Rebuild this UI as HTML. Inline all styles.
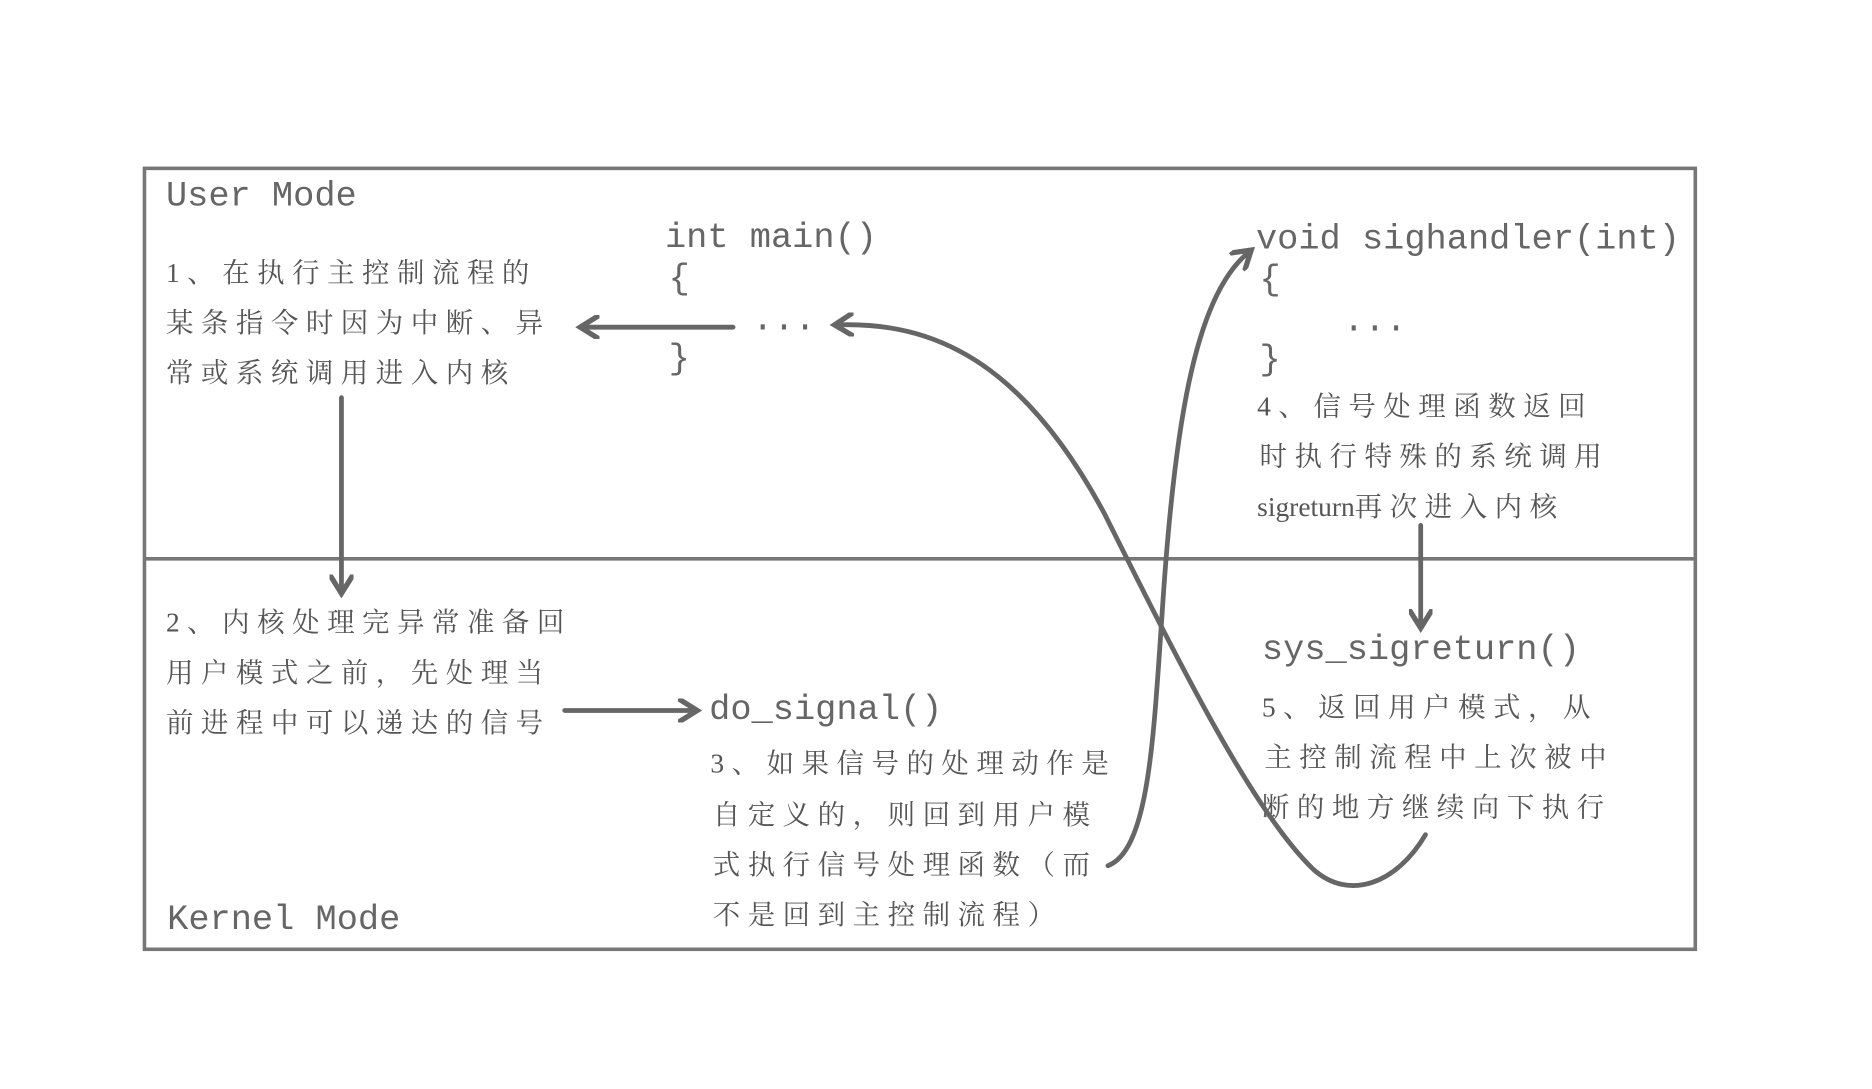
<!DOCTYPE html>
<html><head><meta charset="utf-8"><style>
html,body{margin:0;padding:0;background:#fff;}
svg{display:block;}
.m{font-family:"Liberation Mono",monospace;font-size:29.6px;fill:#666;}
.c{font-family:"Liberation Serif","Noto Serif CJK SC",serif;font-size:23px;letter-spacing:6.3px;fill:#555;}
</style></head><body>
<svg width="1872" height="1089" viewBox="0 0 1568 912" preserveAspectRatio="none" xmlns="http://www.w3.org/2000/svg">
<defs>
<marker id="a" viewBox="0 0 10 10" refX="6" refY="5" markerWidth="5" markerHeight="5" orient="auto-start-reverse" markerUnits="strokeWidth">
<path d="M0,0 L8,5 L0,10" fill="none" stroke="#666" stroke-width="2.2"/>
</marker>
</defs>
<rect x="121" y="141" width="1299" height="654" fill="none" stroke="#777" stroke-width="3"/>
<line x1="121" y1="468" x2="1420" y2="468" stroke="#777" stroke-width="3"/>

<text class="m" x="139" y="172">User Mode</text>
<text class="m" x="140" y="778">Kernel Mode</text>
<text class="m" x="557" y="207">int main()</text>
<text class="m" x="560" y="241">{</text>
<text class="m" x="630" y="276">...</text>
<text class="m" x="560" y="308">}</text>
<text class="m" x="1052" y="208">void sighandler(int)</text>
<text class="m" x="1055" y="242">{</text>
<text class="m" x="1125" y="277">...</text>
<text class="m" x="1055" y="309">}</text>
<text class="m" x="1057" y="552">sys_sigreturn()</text>
<text class="m" x="594" y="602">do_signal()</text>

<text class="c" x="139" y="236">1、在执行主控制流程的</text>
<text class="c" x="139" y="278">某条指令时因为中断、异</text>
<text class="c" x="139" y="320">常或系统调用进入内核</text>

<text class="c" x="1053" y="348">4、信号处理函数返回</text>
<text class="c" x="1055" y="390">时执行特殊的系统调用</text>
<text class="c" x="1053" y="432" style="letter-spacing:0">sigreturn<tspan style="letter-spacing:6.3px">再次进入内核</tspan></text>

<text class="c" x="139" y="529">2、内核处理完异常准备回</text>
<text class="c" x="139" y="571">用户模式之前，先处理当</text>
<text class="c" x="139" y="613">前进程中可以递达的信号</text>

<text class="c" x="595" y="647">3、如果信号的处理动作是</text>
<text class="c" x="597" y="690">自定义的，则回到用户模</text>
<text class="c" x="597" y="732">式执行信号处理函数（而</text>
<text class="c" x="597" y="774">不是回到主控制流程）</text>

<text class="c" x="1057" y="600">5、返回用户模式，从</text>
<text class="c" x="1059" y="642">主控制流程中上次被中</text>
<text class="c" x="1057" y="684">断的地方继续向下执行</text>

<g stroke="#666" stroke-width="4" fill="none" stroke-linecap="round">
<line x1="614" y1="274" x2="490" y2="274" marker-end="url(#a)"/>
<line x1="286" y1="333" x2="286" y2="493" marker-end="url(#a)"/>
<line x1="1190" y1="440" x2="1190" y2="522" marker-end="url(#a)"/>
<line x1="473" y1="595" x2="580" y2="595" marker-end="url(#a)"/>
<path d="M928,725 C962,712 966,620 973,520 C983,360 1000,250 1045,212" marker-end="url(#a)"/>
<path d="M1194,699 C1170,740 1130,755 1100,728 C1050,680 990,560 925,430 C855,300 780,270 703,272" marker-end="url(#a)"/>
</g>
</svg>
</body></html>
